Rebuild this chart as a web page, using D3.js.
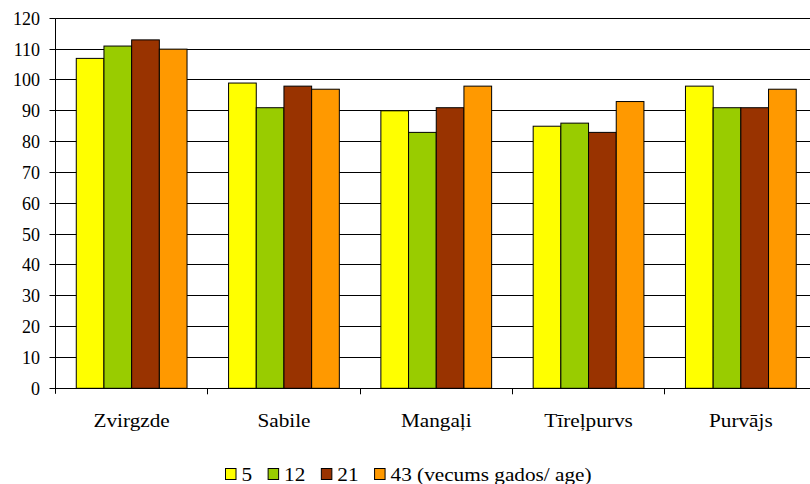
<!DOCTYPE html>
<html>
<head>
<meta charset="utf-8">
<script src="https://cdn.jsdelivr.net/npm/d3@7"></script>
</head>
<body style="margin:0">
<svg id="chart" width="810" height="484" font-family="Liberation Serif"></svg>
<script>
// Sites and age groups
const sites = ["Zvirgzde", "Sabile", "Mangaļi", "Tīreļpurvs", "Purvājs"];
const ages = ["5", "12", "21", "43 (vecums gados/ age)"];
const colors = ["#FFFF00", "#99CC00", "#993300", "#FF9900"];

// One value per site for each age group
const age5  = [107, 99, 90, 85, 98];
const age12 = [111, 91, 83, 86, 91];
const age21 = [113, 98, 91, 83, 91];
const age43 = [110, 97, 98, 93, 97];
const series = [age5, age12, age21, age43];

const yTicks = d3.range(0, 121, 10);

const svg = d3.select("#chart");
const plotLeft = 55.5, plotRight = 817, plotTop = 18.3, plotBottom = 388.3;
const fs = 18;
const sx = 1.18; // wide-set lettering
const fontName = "Liberation Serif";

const x0 = d3.scaleBand().domain(sites).range([plotLeft, plotRight]).paddingInner(0).paddingOuter(0);
const x1 = d3.scaleBand().domain(d3.range(ages.length)).range([0, x0.bandwidth()])
  .paddingInner(0).paddingOuter(0.75);
const y = d3.scaleLinear().domain([0, 120]).range([plotBottom, plotTop]);

const crisp = v => Math.round(v - 0.5) + 0.5;

function label(parent, x, yy, str, anchor, stretch) {
  const g = parent.append("g").attr("transform", `translate(${x},${yy})` + (stretch ? ` scale(${sx},1)` : ""));
  return g.append("text")
    .attr("text-anchor", anchor)
    .attr("font-family", fontName)
    .attr("font-size", fs)
    .attr("fill", "#000")
    .text(str);
}

// Horizontal gridlines
svg.append("g").selectAll("line").data(yTicks.filter(d => d > 0)).join("line")
  .attr("x1", plotLeft).attr("x2", 810)
  .attr("y1", d => crisp(y(d))).attr("y2", d => crisp(y(d)))
  .attr("stroke", "#000").attr("stroke-width", 1);

// Bars
const groups = svg.append("g").selectAll("g").data(sites).join("g")
  .attr("transform", d => `translate(${x0(d)},0)`);
groups.selectAll("rect")
  .data((d, i) => series.map((s, k) => ({ k, v: s[i] })))
  .join("rect")
  .attr("x", d => x1(d.k))
  .attr("width", x1.bandwidth())
  .attr("y", d => y(d.v))
  .attr("height", d => plotBottom - y(d.v))
  .attr("fill", d => colors[d.k])
  .attr("stroke", "#000").attr("stroke-width", 1);

// Y axis line, tick marks and labels
const axisX = crisp(plotLeft);
svg.append("line").attr("x1", axisX).attr("x2", axisX)
  .attr("y1", plotTop).attr("y2", plotBottom + 5.5).attr("stroke", "#000");
svg.append("g").selectAll("line").data(yTicks).join("line")
  .attr("x1", axisX - 6).attr("x2", axisX)
  .attr("y1", d => crisp(y(d))).attr("y2", d => crisp(y(d)))
  .attr("stroke", "#000");
const yl = svg.append("g");
yTicks.forEach(t => label(yl, 40, y(t) + 6.5, d3.format("d")(t), "end", false));

// X axis line and category ticks
svg.append("line").attr("x1", plotLeft).attr("x2", 810)
  .attr("y1", crisp(plotBottom)).attr("y2", crisp(plotBottom)).attr("stroke", "#000");
svg.append("g").selectAll("line").data(sites.slice(1)).join("line")
  .attr("x1", d => crisp(x0(d))).attr("x2", d => crisp(x0(d)))
  .attr("y1", plotBottom).attr("y2", plotBottom + 6)
  .attr("stroke", "#000");

// Category labels
const xl = svg.append("g");
sites.forEach(s => label(xl, x0(s) + x0.bandwidth() / 2, 427, s, "middle", true));

// Legend
const legend = svg.append("g");
let lx = 225;
ages.forEach((a, k) => {
  legend.append("rect")
    .attr("x", lx + 0.5).attr("y", 468.5).attr("width", 10.5).attr("height", 11)
    .attr("fill", colors[k]).attr("stroke", "#000").attr("stroke-width", 1);
  const t = label(legend, lx + 16.5, 481, a, "start", true);
  const w = t.node().getComputedTextLength() * sx;
  lx = lx + 16.5 + w + 15.5;
});
</script>
</body>
</html>
